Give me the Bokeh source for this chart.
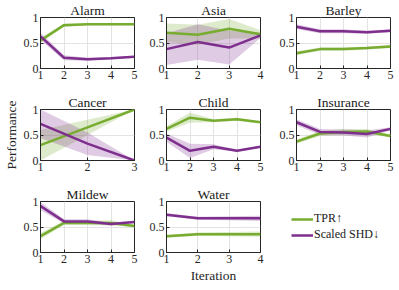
from bokeh.plotting import figure
from bokeh.layouts import gridplot
from bokeh.models import Range1d, FixedTicker, NumeralTickFormatter, Legend, LegendItem
from bokeh.embed import file_html
from bokeh.resources import INLINE

GREEN = "#77AC30"
PURPLE = "#7E2F8E"
FONT = "Liberation Serif"

# ---- data (mean and spread of each metric per iteration) ----
alarm_tpr = [0.55, 0.85, 0.87, 0.87, 0.87]
alarm_tpr_sd = [0.05, 0.03, 0.02, 0.02, 0.02]
alarm_shd = [0.63, 0.21, 0.18, 0.20, 0.23]
alarm_shd_sd = [0.07, 0.05, 0.03, 0.02, 0.02]

asia_tpr = [0.70, 0.66, 0.78, 0.67]
asia_tpr_sd = [0.18, 0.20, 0.19, 0.08]
asia_shd = [0.38, 0.52, 0.41, 0.65]
asia_shd_sd = [0.31, 0.35, 0.33, 0.05]

barley_tpr = [0.30, 0.38, 0.38, 0.40, 0.43]
barley_tpr_sd = [0.04, 0.03, 0.03, 0.03, 0.03]
barley_shd = [0.82, 0.73, 0.73, 0.71, 0.74]
barley_shd_sd = [0.05, 0.04, 0.04, 0.03, 0.03]

cancer_tpr = [0.30, 0.65, 1.00]
cancer_tpr_sd = [0.30, 0.15, 0.00]
cancer_shd = [0.72, 0.33, 0.00]
cancer_shd_sd = [0.28, 0.22, 0.00]

child_tpr = [0.62, 0.84, 0.78, 0.81, 0.75]
child_tpr_sd = [0.05, 0.10, 0.03, 0.03, 0.02]
child_shd = [0.45, 0.19, 0.27, 0.19, 0.27]
child_shd_sd = [0.08, 0.14, 0.05, 0.02, 0.02]

insurance_tpr = [0.37, 0.53, 0.56, 0.57, 0.48]
insurance_tpr_sd = [0.04, 0.05, 0.06, 0.05, 0.03]
insurance_shd = [0.75, 0.56, 0.55, 0.52, 0.62]
insurance_shd_sd = [0.06, 0.06, 0.06, 0.07, 0.03]

mildew_tpr = [0.32, 0.58, 0.58, 0.58, 0.52]
mildew_tpr_sd = [0.06, 0.04, 0.04, 0.05, 0.02]
mildew_shd = [0.91, 0.61, 0.61, 0.56, 0.60]
mildew_shd_sd = [0.08, 0.04, 0.04, 0.03, 0.02]

water_tpr = [0.32, 0.36, 0.36, 0.36]
water_tpr_sd = [0.03, 0.03, 0.04, 0.05]
water_shd = [0.74, 0.67, 0.67, 0.67]
water_shd_sd = [0.03, 0.03, 0.04, 0.05]

panels = [
    ("Alarm", alarm_tpr, alarm_tpr_sd, alarm_shd, alarm_shd_sd),
    ("Asia", asia_tpr, asia_tpr_sd, asia_shd, asia_shd_sd),
    ("Barley", barley_tpr, barley_tpr_sd, barley_shd, barley_shd_sd),
    ("Cancer", cancer_tpr, cancer_tpr_sd, cancer_shd, cancer_shd_sd),
    ("Child", child_tpr, child_tpr_sd, child_shd, child_shd_sd),
    ("Insurance", insurance_tpr, insurance_tpr_sd, insurance_shd, insurance_shd_sd),
    ("Mildew", mildew_tpr, mildew_tpr_sd, mildew_shd, mildew_shd_sd),
    ("Water", water_tpr, water_tpr_sd, water_shd, water_shd_sd),
]
y_ticks = [0, 0.5, 1]
legend_labels = ["TPR↑", "Scaled SHD↓"]

FW, FH = 94, 51
LEFT = [32, 18, 18]
RIGHT = [12, 16, 5]
TOP = 14
BOTTOM = [24, 24, 30]


def base_fig(col, row, xr, yr, title=None, fw=FW, right=None):
    p = figure(frame_width=fw, frame_height=FH,
               min_border_left=LEFT[col],
               min_border_right=RIGHT[col] if right is None else right,
               min_border_top=TOP, min_border_bottom=BOTTOM[row],
               x_range=xr, y_range=yr, title=title,
               output_backend="svg", toolbar_location=None)
    p.background_fill_color = "white"
    p.border_fill_color = "white"
    return p


def make(idx, name, tpr, tpr_sd, shd, shd_sd):
    row, col = divmod(idx, 3)
    n = len(tpr)
    x = list(range(1, n + 1))
    p = base_fig(col, row, Range1d(1, n), Range1d(0, 1), title=name)
    p.title.align = "center"
    p.title.text_font = FONT
    p.title.text_font_size = "13.5px"
    p.title.text_font_style = "normal"
    p.title.text_color = "#1a1a1a"
    p.title.standoff = 0
    p.title.offset = 0

    p.varea(x=x, y1=[m - s for m, s in zip(tpr, tpr_sd)], y2=[m + s for m, s in zip(tpr, tpr_sd)],
            fill_color=GREEN, fill_alpha=0.25)
    p.varea(x=x, y1=[m - s for m, s in zip(shd, shd_sd)], y2=[m + s for m, s in zip(shd, shd_sd)],
            fill_color=PURPLE, fill_alpha=0.25)
    p.line(x, tpr, color=GREEN, line_width=2.5)
    p.line(x, shd, color=PURPLE, line_width=2.5)

    p.xaxis.ticker = FixedTicker(ticks=x)
    p.yaxis.ticker = FixedTicker(ticks=y_ticks)
    p.yaxis.formatter = NumeralTickFormatter(format="0.[0]")
    for ax in (p.xaxis, p.yaxis):
        ax.axis_line_color = "#262626"
        ax.major_tick_line_color = "#262626"
        ax.major_tick_in = 3
        ax.major_tick_out = 0
        ax.minor_tick_line_color = None
        ax.major_label_text_font = FONT
        ax.major_label_text_font_size = "12px"
        ax.major_label_text_color = "#262626"
        ax.major_label_standoff = 2
        ax.axis_label_text_font = FONT
        ax.axis_label_text_font_size = "13.5px"
        ax.axis_label_text_font_style = "normal"
        ax.axis_label_text_color = "#262626"
        ax.axis_label_standoff = 2
    p.grid.grid_line_color = "#e3e3e3"
    p.outline_line_color = "#262626"
    p.outline_line_alpha = 1
    if name == "Cancer":
        p.yaxis.axis_label = "Performance"
    if name == "Water":
        p.xaxis.axis_label = "Iteration"
    return p


figs = [make(i, *pn) for i, pn in enumerate(panels)]

# legend cell
lp = base_fig(2, 2, Range1d(0, 1), Range1d(0, 1), fw=FW + RIGHT[2], right=0)
lp.axis.visible = False
lp.grid.visible = False
lp.outline_line_color = None
r1 = lp.line([-5, -4], [-5, -4], color=GREEN, line_width=2.5)
r2 = lp.line([-5, -4], [-5, -4], color=PURPLE, line_width=2.5)
leg = Legend(items=[LegendItem(label=legend_labels[0], renderers=[r1]),
                    LegendItem(label=legend_labels[1], renderers=[r2])],
             location=(9, 10), border_line_color=None, background_fill_alpha=0,
             padding=0, margin=0, spacing=1, glyph_width=22, glyph_height=14,
             label_height=14, label_standoff=1,
             label_text_font=FONT, label_text_font_size="12px",
             label_text_color="#1a1a1a")
lp.add_layout(leg)

grid = gridplot([figs[0:3], figs[3:6], [figs[6], figs[7], lp]], toolbar_location=None)

open("out.html", "w").write(file_html(grid, INLINE))
